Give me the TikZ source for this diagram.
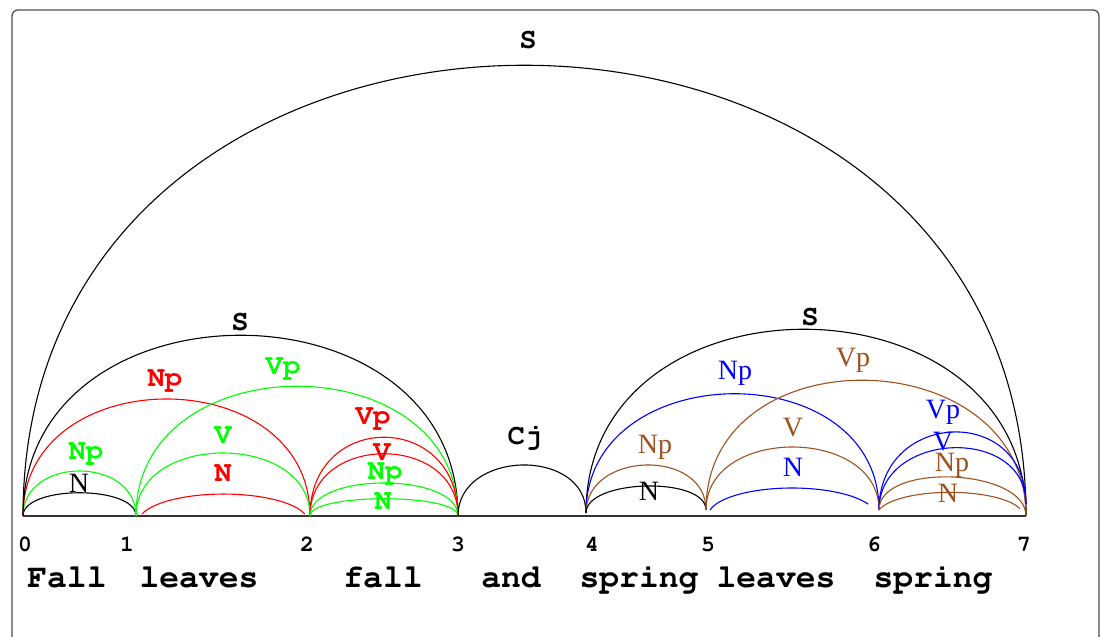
\documentclass[tikz,border=0pt]{standalone}
\usepackage[T1]{fontenc}
\usepackage{fontspec}
\setmainfont{Liberation Serif}
\newcommand\courb{\fontencoding{T1}\fontfamily{pcr}\fontseries{b}\selectfont}
\definecolor{ArcGreen}{HTML}{00FF00}
\definecolor{ArcRed}{HTML}{FF0000}
\definecolor{ArcBlue}{HTML}{0000FF}
\definecolor{ArcBrown}{HTML}{A0501E}
\definecolor{FrameGray}{HTML}{505050}
\usepackage{tikz}

\begin{document}
\begin{tikzpicture}[
  x=0.5pt,y=0.5pt,
  lnk/.style={line width=0.55pt},
  tlab/.style={font=\courb\fontsize{14.5}{16}\selectfont,inner sep=0pt},
  slab/.style={font=\fontsize{14}{16}\selectfont,inner sep=0pt},
  num/.style={font=\courb\fontsize{11.5}{13}\selectfont,inner sep=0pt,anchor=base},
  word/.style={font=\courb\fontsize{16.5}{18}\selectfont,inner sep=0pt,anchor=base}
]
\useasboundingbox (0,-121) rectangle (1100,516);
\draw[FrameGray,line width=0.65pt,rounded corners=3pt] (12,-126) rectangle (1099,506);

% word positions
\coordinate (p0) at (23,0);
\coordinate (p1) at (136,0);
\coordinate (p2) at (310,0);
\coordinate (p3) at (458,0);
\coordinate (p4) at (586,3);
\coordinate (p5) at (706,6);
\coordinate (p6) at (879,6);
\coordinate (p7) at (1026,0);
\coordinate (t7) at (1026,12);
\draw[black!80,line width=0.8pt] (23,0) coordinate (b0) -- (1026,0) coordinate (b7);

\node[num] (n0) at (25,-35.5) {0};
\node[num] (n1) at (127,-35.5) {1};
\node[num] (n2) at (307,-35.5) {2};
\node[num] (n3) at (458,-35.5) {3};
\node[num] (n4) at (592,-35.5) {4};
\node[num] (n5) at (708,-35.5) {5};
\node[num] (n6) at (874,-35.5) {6};
\node[num] (n7) at (1024,-35.5) {7};

\node[word] (w0) at (67,-72) {Fall};
\node[word] (w1) at (199,-72) {leaves};
\node[word] (w2) at (383,-72) {fall};
\node[word] (w3) at (511,-72) {and};
\node[word] (w4) at (639,-72) {spring};
\node[word] (w5) at (776,-72) {leaves};
\node[word] (w6) at (933,-72) {spring};

% whole sentence
\draw[lnk] (p0) .. controls +(0,601) and +(0,601) .. (p7);

% first clause
\draw[lnk] (p0) .. controls +(0,31) and +(0,31) .. (p1);
\draw[lnk,ArcGreen] (p0) .. controls +(0,60) and +(0,60) .. (p1);
\draw[lnk,ArcRed] (p0) .. controls +(0,156) and +(0,156) .. (p2);
\draw[lnk] (p0) .. controls +(0,241) and +(0,241) .. (p3);
\draw[lnk,ArcGreen] (p1) .. controls +(0,173) and +(0,173) .. (p3);
\draw[lnk,ArcGreen] (p1) .. controls +(0,84) and +(0,84) .. (p2);
\coordinate (rn) at (142,2);
\draw[lnk,ArcRed] (rn) arc[start angle=163,end angle=17,x radius=42.6pt,y radius=14.1pt];
\draw[lnk,ArcRed] (p2) .. controls +(0,105) and +(0,105) .. (p3);
\draw[lnk,ArcRed] (p2) .. controls +(0,83) and +(0,83) .. (p3);
\draw[lnk,ArcGreen] (p2) .. controls +(0,44) and +(0,44) .. (p3);
\draw[lnk,ArcGreen] (p2) .. controls +(0,23) and +(0,23) .. (p3);

% conjunction
\draw[lnk] (p3) .. controls +(0,66) and +(0,66) .. (p4);

% second clause
\draw[lnk] (p4) .. controls +(0,247) and +(0,247) .. (p7);
\draw[lnk,ArcBlue] (p4) .. controls +(0,157) and +(0,157) .. (p6);
\draw[lnk,ArcBrown] (p4) .. controls +(0,62) and +(0,62) .. (p5);
\draw[lnk] (p4) .. controls +(0,34) and +(0,34) .. (p5);
\draw[lnk,ArcBrown] (p5) .. controls +(0,177) and +(0,177) .. (p7);
\draw[lnk,ArcBrown] (p5) .. controls +(0,84) and +(0,84) .. (p6);
\coordinate (bn) at (710,6);
\draw[lnk,ArcBlue] (bn) arc[start angle=167.6,end angle=25,x radius=42pt,y radius=14pt];
\draw[lnk,ArcBlue] (p6) .. controls +(0,100) and +(0,100) .. (t7);
\draw[lnk,ArcBlue] (p6) .. controls +(0,79) and +(0,79) .. (t7);
\draw[lnk,ArcBrown] (p6) .. controls +(0,48) and +(0,48) .. (p7);
\draw[lnk,ArcBrown] (p6) arc[start angle=166.6,end angle=16.5,x radius=36.5pt,y radius=11.5pt];

% labels
\node[tlab] (lS) at (528,476) {S};
\node[slab] (lN01) at (79,33) {N};
\node[tlab,ArcGreen] (lNp01) at (86,63) {Np};
\node[tlab,ArcRed] (lNp02) at (165,136) {Np};
\node[tlab] (lS03) at (240,194) {S};
\node[tlab,ArcGreen] (lVp13) at (283,148) {Vp};
\node[tlab,ArcGreen] (lV12) at (223,81) {V};
\node[tlab,ArcRed] (lN12) at (223,42) {N};
\node[tlab,ArcRed] (lVp23) at (373,98) {Vp};
\node[tlab,ArcRed] (lV23) at (382,64) {V};
\node[tlab,ArcGreen] (lNp23) at (385,43) {Np};
\node[tlab,ArcGreen] (lN23) at (383,14) {N};
\node[tlab] (lCj) at (525,79) {Cj};
\node[tlab] (lS47) at (810,199) {S};
\node[slab,ArcBlue] (lNp46) at (735,143) {Np};
\node[slab,ArcBrown] (lNp45) at (655,69) {Np};
\node[slab] (lN45) at (649,25) {N};
\node[slab,ArcBrown] (lVp57) at (853,156) {Vp};
\node[slab,ArcBrown] (lV56) at (793,88) {V};
\node[slab,ArcBlue] (lN56) at (793,49) {N};
\node[slab,ArcBlue] (lVp67) at (943,104) {Vp};
\node[slab,ArcBlue] (lV67) at (943,74) {V};
\node[slab,ArcBrown] (lNp67) at (952,51) {Np};
\node[slab,ArcBrown] (lN67) at (948,23) {N};
\end{tikzpicture}
\end{document}
